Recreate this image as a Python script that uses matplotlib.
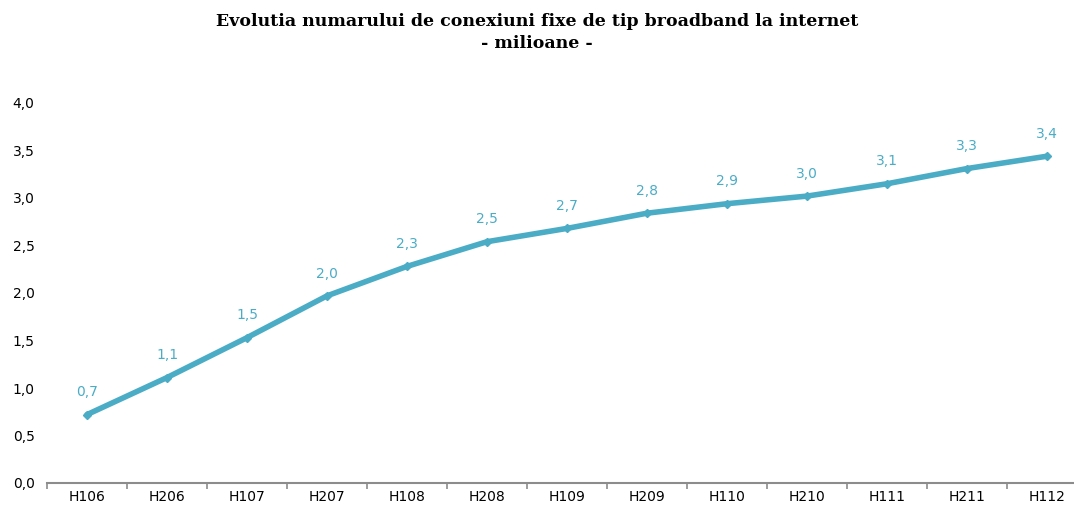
"""Evolutia numarului de conexiuni fixe de tip broadband - line chart."""

import matplotlib
matplotlib.use("Agg")
import matplotlib.pyplot as plt

# ---------------------------------------------------------------------------
# Data
# ---------------------------------------------------------------------------
periods = ["H106", "H206", "H107", "H207", "H108", "H208", "H109",
           "H209", "H110", "H210", "H111", "H211", "H112"]
connections = [0.72, 1.11, 1.53, 1.97, 2.28, 2.54, 2.68,
               2.84, 2.94, 3.02, 3.15, 3.31, 3.44]
y_ticks = [0.0, 0.5, 1.0, 1.5, 2.0, 2.5, 3.0, 3.5, 4.0]

# ---------------------------------------------------------------------------
# Style
# ---------------------------------------------------------------------------
_LINE = "#4BACC6"
_AXIS = "#8C8C8C"
_W, _H = 1074, 507


def _fmt(v: float) -> str:
    return f"{v:.1f}".replace(".", ",")


def main() -> None:
    fig = plt.figure(figsize=(_W / 100, _H / 100), dpi=100)
    # plot area runs past the right edge, as in the source picture
    ax = fig.add_axes([47 / _W, 24 / _H, 1040 / _W, 380 / _H])

    x = list(range(len(periods)))
    ax.plot(x, connections, color=_LINE, lw=4.0, solid_capstyle="round",
            marker="D", ms=4, clip_on=False, zorder=3)

    for xi, v in zip(x, connections):
        ax.annotate(_fmt(v), (xi, v), xytext=(0, 11), textcoords="offset points",
                    ha="center", va="bottom", color=_LINE, fontsize=10,
                    family="DejaVu Sans")

    ax.set_xlim(-0.5, len(periods) - 0.5)
    ax.set_ylim(0, 4.0)
    ax.set_yticks(y_ticks)
    ax.set_yticklabels([_fmt(t) for t in y_ticks])
    ax.set_xticks(x)
    ax.set_xticklabels(periods)

    # category boundary ticks on the x axis
    ax.set_xticks([i - 0.5 for i in range(len(periods) + 1)], minor=True)
    ax.tick_params(axis="x", which="major", length=0, pad=5, labelsize=10)
    ax.tick_params(axis="x", which="minor", length=4, color=_AXIS, width=1.2)
    ax.tick_params(axis="y", length=0, pad=9, labelsize=10)

    for side in ("top", "right", "left"):
        ax.spines[side].set_visible(False)
    ax.spines["bottom"].set_color(_AXIS)
    ax.spines["bottom"].set_linewidth(1.5)

    fig.text(0.5, 1 - 22 / _H,
             "Evolutia numarului de conexiuni fixe de tip broadband la internet",
             ha="center", va="center", fontsize=12.5, fontweight="bold",
             family="DejaVu Serif")
    fig.text(0.5, 1 - 44 / _H, "- milioane -",
             ha="center", va="center", fontsize=12.5, fontweight="bold",
             family="DejaVu Serif")

    fig.savefig("out.png", dpi=100)
    plt.close(fig)


if __name__ == "__main__":
    main()
